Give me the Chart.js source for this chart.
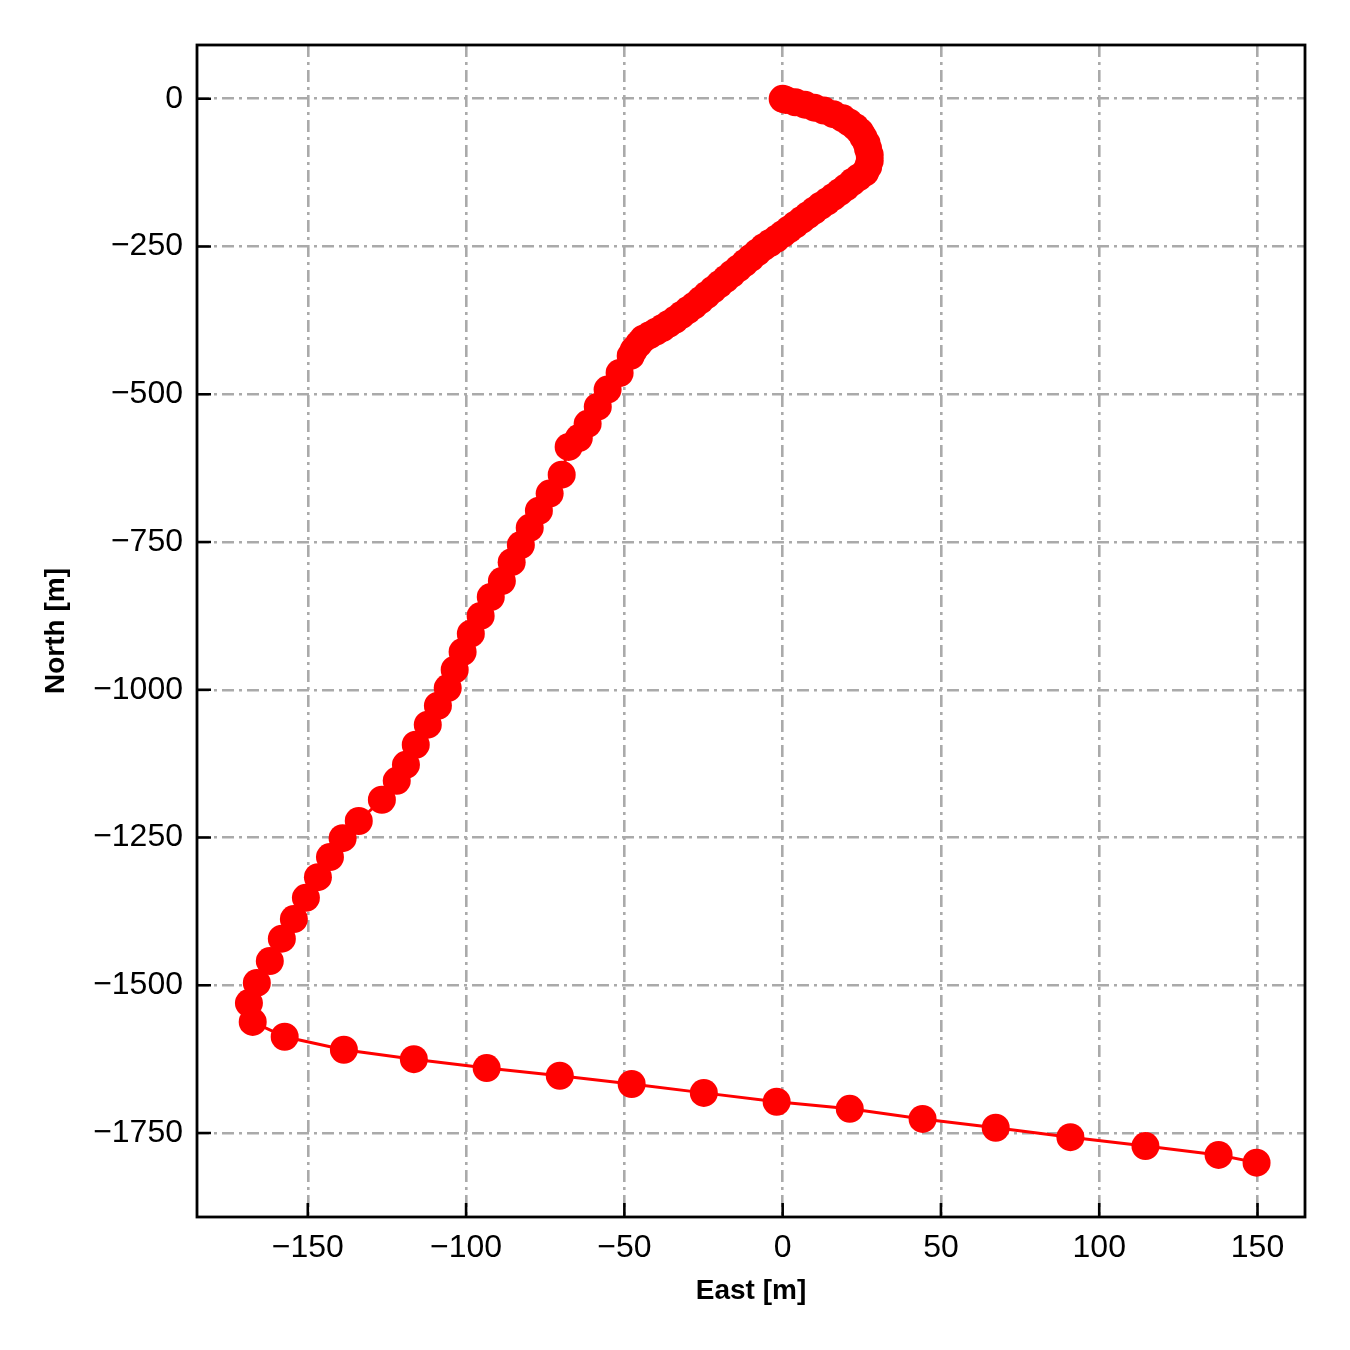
<!DOCTYPE html>
<html>
<head>
<meta charset="utf-8">
<script src="https://cdn.jsdelivr.net/npm/chart.js@4.4.0/dist/chart.umd.min.js"></script>
<style>
  html, body { margin: 0; padding: 0; background: #ffffff; }
  #wrap { width: 1350px; height: 1350px; }
</style>
</head>
<body>
<div id="wrap"><canvas id="trackChart" width="1350" height="1350"></canvas></div>
<script>
// track positions in metres
const eastValues = [
    0, 1, 4, 7, 10, 13, 16, 19, 21, 23, 24.5, 25.5, 26.5, 27, 27.5, 27.5, 27, 26,
    24, 22, 20, 18, 16, 14, 12, 10, 8, 6, 4, 2, 0, -2, -4, -6, -8, -10, -12, -14,
    -16, -18, -20, -22, -24, -26, -28, -30, -32, -34, -36, -38, -40, -42, -44, -45.5, -47, -48,
    -51.5, -55.3, -58.4, -61.6, -64.4, -67.6, -69.8, -73.6, -77, -79.9, -82.7, -85.6,
    -88.7, -92.2, -95.4, -98.5, -101.1, -103.6, -105.8, -108.9, -112.1, -115.9, -119,
    -121.9, -126.6, -133.9, -139, -143, -146.8, -150.6, -154.4, -158.2, -162, -166.1,
    -168.6, -167.4, -157.3, -138.6, -116.5, -93.5, -70.4, -47.7, -24.9, -1.9, 21.2,
    44.2, 67.3, 90.9, 114.6, 137.7, 149.7
];
const northValues = [
    0, -2, -6, -10, -15, -20, -26, -33, -40, -48, -56, -65, -75, -85, -95, -105, -115, -125,
    -133, -141, -150, -158, -166, -174, -181, -189, -197, -205, -213, -221, -229, -237, -244, -251,
    -260, -269, -278, -287, -296, -305, -314, -323, -332, -341, -350, -358, -366, -374, -381,
    -388, -394, -400, -406, -415, -425, -435,
    -464, -492, -521, -550, -574, -589, -636, -668, -697, -726, -755, -784,
    -816, -843, -875, -905, -936, -966, -997, -1027, -1059, -1093, -1127,
    -1154, -1186, -1222, -1251, -1283, -1317, -1352, -1388, -1421, -1459, -1496,
    -1530, -1562, -1587, -1609, -1625, -1640, -1653, -1667, -1682, -1697, -1709,
    -1726, -1741, -1757, -1772, -1787, -1800
];
const eastTicks = [-150, -100, -50, 0, 50, 100, 150];
const northTicks = [0, -250, -500, -750, -1000, -1250, -1500, -1750];

const points = eastValues.map(function (e, i) {
    return { x: e, y: northValues[i] };
});

function minusLabel(v) {
    return v < 0 ? '\u2212' + Math.abs(v) : String(v);
}

// matplotlib style box + inward ticks
const frameTicks = {
    id: 'frameTicks',
    afterDatasetsDraw(chart) {
        const ctx = chart.ctx;
        const a = chart.chartArea;
        const xs = chart.scales.x;
        const ys = chart.scales.y;
        ctx.save();
        ctx.strokeStyle = '#000000';
        ctx.lineWidth = 2.6;
        ctx.beginPath();
        xs.ticks.forEach(function (t) {
            const px = xs.getPixelForValue(t.value);
            ctx.moveTo(px, a.bottom);
            ctx.lineTo(px, a.bottom - 14);
        });
        ys.ticks.forEach(function (t) {
            const py = ys.getPixelForValue(t.value);
            ctx.moveTo(a.left, py);
            ctx.lineTo(a.left + 14, py);
        });
        ctx.stroke();
        ctx.lineWidth = 2.8;
        ctx.strokeRect(a.left, a.top, a.right - a.left, a.bottom - a.top);
        ctx.restore();
    }
};

const ctx = document.getElementById('trackChart').getContext('2d');
new Chart(ctx, {
    type: 'scatter',
    data: {
        datasets: [{
            label: 'track',
            data: points,
            showLine: true,
            borderColor: '#ff0000',
            backgroundColor: '#ff0000',
            borderWidth: 3,
            pointRadius: 14,
            pointBorderWidth: 0,
            pointHoverRadius: 14,
            tension: 0
        }]
    },
    options: {
        responsive: false,
        animation: false,
        layout: { padding: { left: 0, top: 45, right: 45, bottom: 0 } },
        plugins: {
            legend: { display: false },
            tooltip: { enabled: false }
        },
        scales: {
            x: {
                type: 'linear',
                min: -185,
                max: 165,
                afterFit: function (s) { s.height = 133; },
                afterBuildTicks: function (s) {
                    s.ticks = eastTicks.map(function (v) { return { value: v }; });
                },
                border: { display: false, dash: [12, 5, 3, 5] },
                grid: { color: '#aaaaaa', lineWidth: 2.6, drawTicks: false },
                ticks: {
                    padding: 12,
                    color: '#000000',
                    font: { family: 'Liberation Sans, Arial, sans-serif', size: 32 },
                    maxRotation: 0,
                    callback: minusLabel
                },
                title: {
                    display: true,
                    text: 'East [m]',
                    color: '#000000',
                    font: { family: 'Liberation Sans, Arial, sans-serif', size: 28, weight: 'bold' },
                    padding: { top: 0, bottom: 42 }
                }
            },
            y: {
                type: 'linear',
                min: -1892,
                max: 91,
                afterFit: function (s) { s.width = 197; },
                afterBuildTicks: function (s) {
                    s.ticks = northTicks.map(function (v) { return { value: v }; });
                },
                border: { display: false, dash: [12, 5, 3, 5] },
                grid: { color: '#aaaaaa', lineWidth: 2.6, drawTicks: false },
                ticks: {
                    padding: 14,
                    color: '#000000',
                    font: { family: 'Liberation Sans, Arial, sans-serif', size: 32 },
                    callback: minusLabel
                },
                title: {
                    display: true,
                    text: 'North [m]',
                    color: '#000000',
                    font: { family: 'Liberation Sans, Arial, sans-serif', size: 28, weight: 'bold' },
                    padding: { top: 39, bottom: 0 }
                }
            }
        }
    },
    plugins: [frameTicks]
});
</script>
</body>
</html>
